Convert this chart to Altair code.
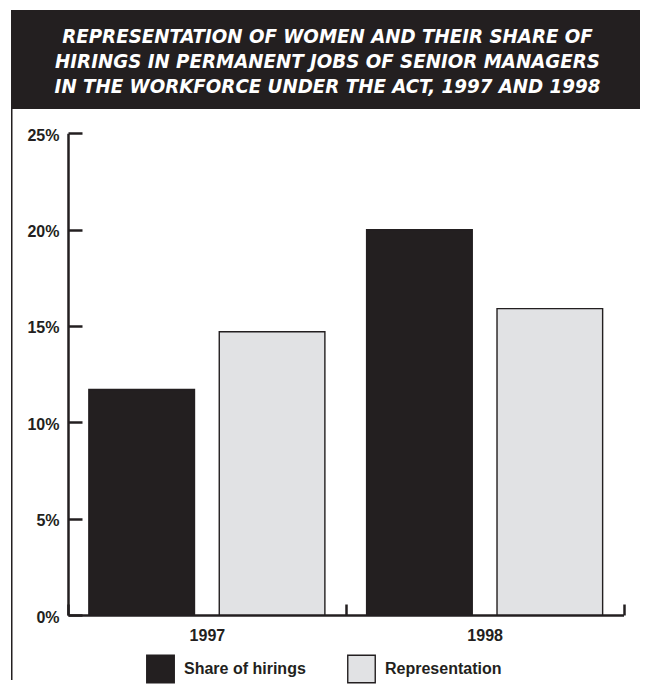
import altair as alt
import pandas as pd

# ---- data ----
years = ["1997", "1998"]
series = ["Share of hirings", "Representation"]
share_of_hirings = [11.7, 20.0]
representation = [14.7, 15.9]
y_ticks = [0, 5, 10, 15, 20, 25]
title_lines = [
    "REPRESENTATION OF WOMEN AND THEIR SHARE OF",
    "HIRINGS IN PERMANENT JOBS OF SENIOR MANAGERS",
    "IN THE WORKFORCE UNDER THE ACT, 1997 AND 1998",
]

rows = []
for i, yr in enumerate(years):
    rows.append({"year": yr, "series": series[0], "value": share_of_hirings[i]})
    rows.append({"year": yr, "series": series[1], "value": representation[i]})
df = pd.DataFrame(rows)

DARK = "#231f20"
GRAY = "#e1e2e4"
FONT = "Liberation Sans, Arial, Helvetica, sans-serif"
TFONT = "'DejaVu Sans Condensed', 'Liberation Sans Narrow', sans-serif"

W = 629
HEAD_H = 99
BODY_H = 571

# ---- header box with title ----
header = (
    alt.Chart(pd.DataFrame({"k": [0]}))
    .mark_text(
        font=TFONT,
        fontSize=20.3,
        fontStyle="italic",
        fontWeight="bold",
        color="white",
        align="center",
        baseline="middle",
        lineHeight=25,
    )
    .encode(
        text=alt.value(title_lines),
        x=alt.value(316.5),
        y=alt.value(27),
    )
    .properties(
        width=W,
        height=HEAD_H,
        view=alt.ViewBackground(fill=DARK, stroke=DARK, strokeWidth=0),
    )
)

# ---- body ----
bars = (
    alt.Chart(df)
    .mark_bar(stroke=DARK, strokeWidth=1.4)
    .encode(
        x=alt.X(
            "year:N",
            sort=years,
            scale=alt.Scale(range=[57, 612.5], paddingInner=0, paddingOuter=0),
            axis=alt.Axis(
                title=None,
                labelAngle=0,
                labelFont=FONT,
                labelFontWeight="bold",
                labelFontSize=16,
                labelColor=DARK,
                labelPadding=23,
                domainColor=DARK,
                domainWidth=2.5,
                tickColor=DARK,
                tickWidth=2.5,
                tickSize=alt.ExprRef("-11"),
                tickBand="extent",
                offset=-(BODY_H - 506),
            ),
        ),
        xOffset=alt.XOffset(
            "series:N",
            sort=series,
            scale=alt.Scale(paddingInner=0.19, paddingOuter=0.16),
        ),
        y=alt.Y(
            "value:Q",
            scale=alt.Scale(domain=[0, 25], range=[506, 24.3], nice=False),
            axis=alt.Axis(
                title=None,
                values=y_ticks,
                labelExpr="datum.value + '%'",
                labelFont=FONT,
                labelFontWeight="bold",
                labelFontSize=16,
                labelColor=DARK,
                labelPadding=23,
                labelOffset=2,
                grid=False,
                domainColor=DARK,
                domainWidth=2.5,
                tickColor=DARK,
                tickWidth=2.5,
                tickSize=alt.ExprRef("-14"),
                offset=-57,
            ),
        ),
        color=alt.Color(
            "series:N",
            sort=series,
            scale=alt.Scale(domain=series, range=[DARK, GRAY]),
            legend=alt.Legend(
                title=None,
                orient="none",
                direction="horizontal",
                columns=2,
                legendX=135,
                legendY=644,
                padding=0,
                symbolType="square",
                symbolSize=756,
                symbolStrokeColor=DARK,
                symbolStrokeWidth=1.4,
                symbolOpacity=1,
                labelFont=FONT,
                labelFontWeight="bold",
                labelFontSize=16,
                labelColor=DARK,
                labelOffset=9,
                columnPadding=38,
                labelLimit=300,
            ),
        ),
    )
)

border = (
    alt.Chart(pd.DataFrame({"k": [0]}))
    .mark_rule(color=DARK, strokeWidth=1.5)
    .encode(x=alt.value(0.75), y=alt.value(0), y2=alt.value(BODY_H))
)

body = alt.layer(bars, border).properties(width=W, height=BODY_H)

chart = (
    alt.vconcat(header, body, spacing=0, bounds="flush")
    .properties(padding={"left": 3, "top": 2, "right": 0, "bottom": 0}, background="white")
    .configure_view(strokeWidth=0)
)

chart.save("out.html", embed_options={"renderer": "svg", "actions": False})
